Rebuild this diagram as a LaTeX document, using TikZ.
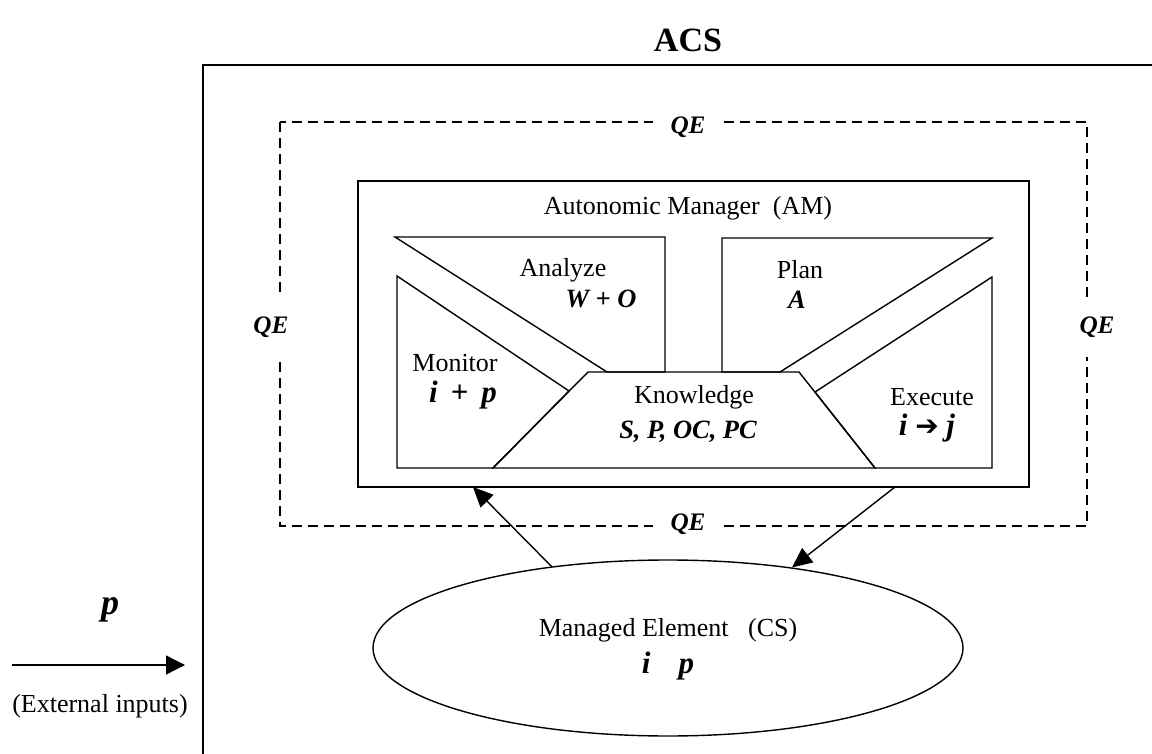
\documentclass[tikz,border=0pt]{standalone}
\usepackage{fontspec}
\setmainfont{Liberation Serif}
\newfontfamily\arrowfont{DejaVu Sans}
\usetikzlibrary{arrows.meta,shapes.geometric}

\begin{document}
\begin{tikzpicture}[x=0.5pt,y=-0.5pt,
  txt/.style={inner sep=0pt,font=\fontsize{13}{15}\selectfont},
  var/.style={inner sep=0pt,font=\fontsize{13.2}{15}\selectfont\bfseries\itshape},
  bigvar/.style={inner sep=0pt,font=\fontsize{15.5}{17}\selectfont\bfseries\itshape},
  qe/.style={fill=white,inner xsep=9pt,inner ysep=5pt,font=\fontsize{12.6}{15}\selectfont\bfseries\itshape},
  part/.style={line width=0.7pt,line join=miter},
  flow/.style={line width=0.7pt,-{Triangle[length=10pt,width=9pt]}}]
\useasboundingbox (0,0) rectangle (1152,754);

% the ACS box, cut by the page
\begin{scope}
\clip (0,0) rectangle (1152,754);
\draw[line width=1pt] (203,65) rectangle (1300,900);
\end{scope}
\node (acs) [inner sep=0pt,font=\fontsize{17}{20}\selectfont\bfseries] at (688,40) {ACS};

% quality evaluation loop
\draw[line width=0.75pt,dash pattern=on 5pt off 3pt] (280,122) rectangle (1087,526);
\node (qetop) [qe] at (688,127) {QE};
\node (qebot) [qe] at (688,524) {QE};
\node (qeleft) [qe,inner xsep=3pt,inner ysep=10pt] at (271,327) {QE};
\node (qeright) [qe,inner xsep=3pt,inner ysep=10pt] at (1097,327) {QE};

% autonomic manager
\node (am) [draw,line width=0.7pt,minimum width=335.5pt,minimum height=153pt,inner sep=0pt] at (693.5,334) {};
\node (amlabel) [txt] at (688,208) {Autonomic Manager~~(AM)};

% MAPE-K parts
\draw[part] (395,237) -- (665,237) -- (665,372) -- (607,372) -- cycle;
\draw[part] (397,276) -- (569,391) -- (493,468) -- (397,468) -- cycle;
\draw[part] (588,372) -- (799,372) -- (875,468) -- (493,468) -- cycle;
\draw[part] (722,372) -- (722,238) -- (992,238) -- (780,372) -- cycle;
\draw[part] (992,277) -- (992,468) -- (875,468) -- (815,392) -- cycle;

\node (analyze) [txt] at (563,270) {Analyze};
\node (wo) [var] at (601,299) {W + O};
\node (plan) [txt] at (800,270) {Plan};
\node (a) [var] at (797,300) {A};
\node (monitor) [txt] at (455,363) {Monitor};
\node (ip) [bigvar] at (463,395) {i\ \,+\ \,p};
\node (know) [txt] at (694,397) {Knowledge};
\node (spoc) [var] at (688,432) {S, P, OC, PC};
\node (exec) [txt] at (932,397) {Execute};
\node (ij) [bigvar] at (927,428) {i {\arrowfont\bfseries\fontsize{14}{16}\selectfont\symbol{"2794}} j};

% managed element
\node (me) [draw,ellipse,line width=0.7pt,minimum width=295pt,minimum height=88pt,inner sep=0pt] at (668,648) {};
\node (melabel) [txt] at (668,630) {Managed Element\ \ \ (CS)};
\node (meip) [bigvar] at (668,666) {i\hspace{14pt}p};

\coordinate (amin) at (473,487);
\coordinate (amout) at (895,487);
\draw[flow] (me.145) -- (amin);
\draw[flow] (amout) -- (me.33);

% external inputs
\node (ext) [inner sep=0pt,font=\fontsize{18}{20}\selectfont\bfseries\itshape] at (110,610) {p};
\coordinate (extstart) at (12,665);
\coordinate (extend) at (185,665);
\draw[line width=0.7pt,-{Triangle[length=9.5pt,width=9.5pt]}] (extstart) -- (extend);
\node (extlabel) [txt] at (100,706) {(External inputs)};
\end{tikzpicture}
\end{document}
